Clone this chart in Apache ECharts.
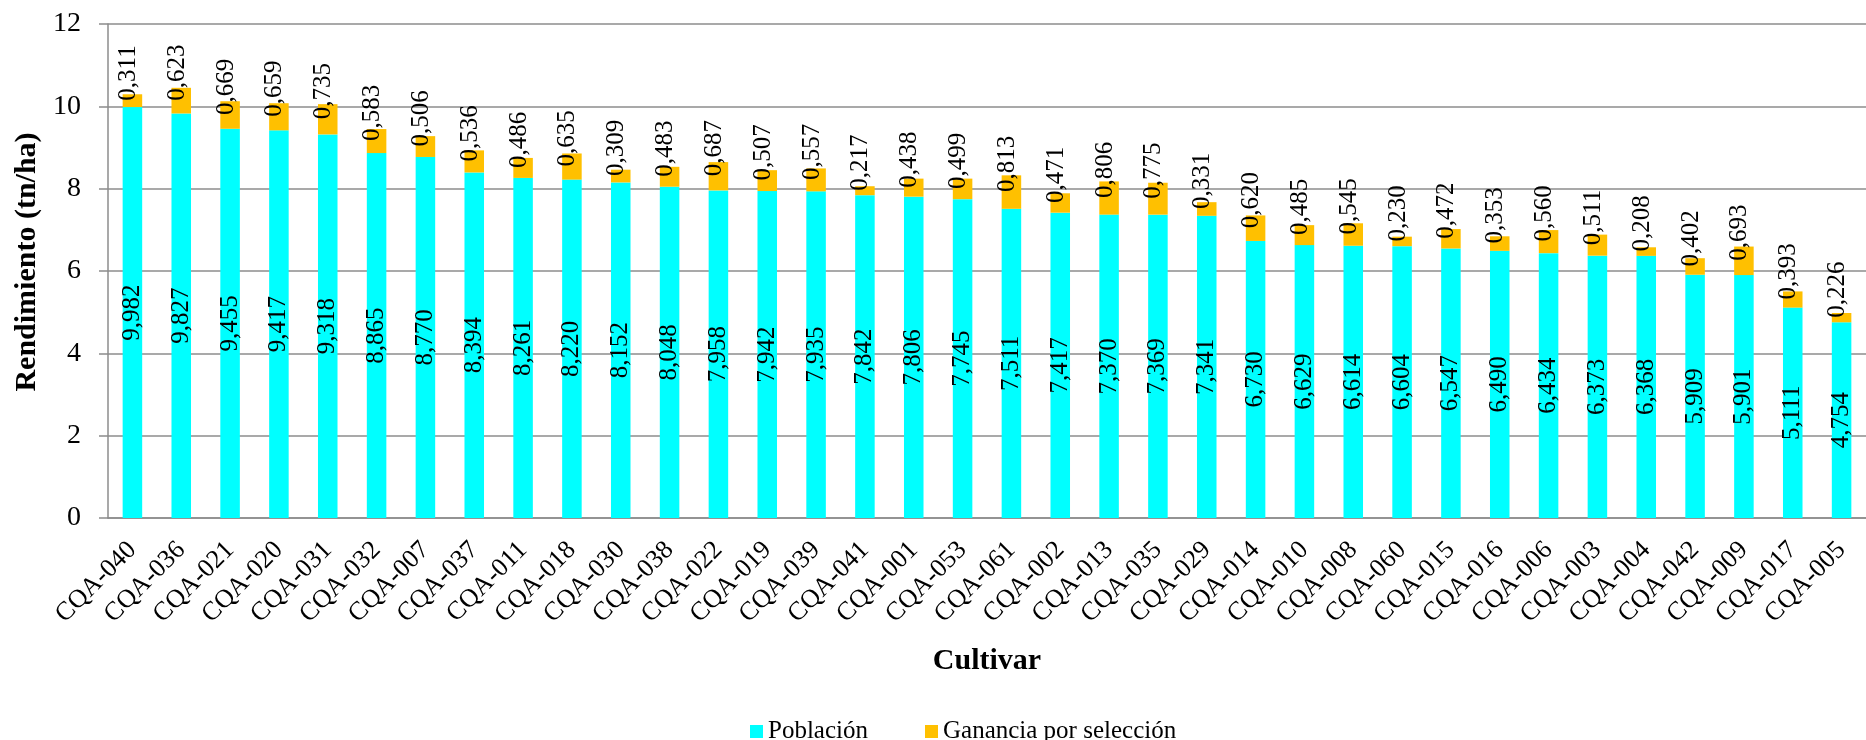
<!DOCTYPE html>
<html>
<head>
<meta charset="utf-8">
<script src="https://cdn.jsdelivr.net/npm/echarts@6/dist/echarts.min.js"></script>
<style>
    html, body { margin: 0; padding: 0; background: #fff; }
    #fig_rendimiento { width: 1866px; height: 740px; }
</style>
</head>
<body>
<div id="fig_rendimiento"></div>
<script>
// cultivars, sorted by poblacion
var cultivares = [
    'CQA-040', 'CQA-036', 'CQA-021', 'CQA-020', 'CQA-031', 'CQA-032',
    'CQA-007', 'CQA-037', 'CQA-011', 'CQA-018', 'CQA-030', 'CQA-038',
    'CQA-022', 'CQA-019', 'CQA-039', 'CQA-041', 'CQA-001', 'CQA-053',
    'CQA-061', 'CQA-002', 'CQA-013', 'CQA-035', 'CQA-029', 'CQA-014',
    'CQA-010', 'CQA-008', 'CQA-060', 'CQA-015', 'CQA-016', 'CQA-006',
    'CQA-003', 'CQA-004', 'CQA-042', 'CQA-009', 'CQA-017', 'CQA-005'
];

var poblacion = [
    9.982, 9.827, 9.455, 9.417, 9.318, 8.865,
    8.770, 8.394, 8.261, 8.220, 8.152, 8.048,
    7.958, 7.942, 7.935, 7.842, 7.806, 7.745,
    7.511, 7.417, 7.370, 7.369, 7.341, 6.730,
    6.629, 6.614, 6.604, 6.547, 6.490, 6.434,
    6.373, 6.368, 5.909, 5.901, 5.111, 4.754
];

var ganancia = [
    0.311, 0.623, 0.669, 0.659, 0.735, 0.583,
    0.506, 0.536, 0.486, 0.635, 0.309, 0.483,
    0.687, 0.507, 0.557, 0.217, 0.438, 0.499,
    0.813, 0.471, 0.806, 0.775, 0.331, 0.620,
    0.485, 0.545, 0.230, 0.472, 0.353, 0.560,
    0.511, 0.208, 0.402, 0.693, 0.393, 0.226
];

var y_ticks = [0, 12, 2];   // min, max, interval

var fig_rendimiento = {
    plot_id: 'fig_rendimiento',
    plot_chart: null,
    font: '"Liberation Serif", "Times New Roman", serif',

    // 9.982 -> 9,982
    fmt_num: function(v) {
        return v.toFixed(3).replace('.', ',');
    },

    init: function() {
        var font = this.font;
        var fmt = function(p) { return fig_rendimiento.fmt_num(p.value); };

        this.option = {
            animation: false,
            textStyle: { fontFamily: font, color: '#000' },
            grid: {
                top: 24,
                right: 0,
                bottom: 222,
                left: 108
            },
            legend: {
                data: ['Población', 'Ganancia por selección'],
                left: 745,
                top: 714,
                itemWidth: 13,
                itemHeight: 13,
                itemGap: 57,
                icon: 'rect',
                textStyle: { fontFamily: font, fontSize: 25, color: '#000' }
            },
            xAxis: {
                type: 'category',
                data: cultivares,
                name: 'Cultivar',
                nameLocation: 'middle',
                nameGap: 128,
                nameTextStyle: { fontFamily: font, fontSize: 30, fontWeight: 'bold', color: '#000' },
                axisLine: { lineStyle: { color: '#8c8c8c', width: 1.5 } },
                axisTick: { length: 7, lineStyle: { color: '#8c8c8c', width: 1.5 } },
                axisLabel: {
                    rotate: 45,
                    interval: 0,
                    margin: 28,
                    fontFamily: font,
                    fontSize: 26,
                    color: '#000'
                }
            },
            yAxis: {
                type: 'value',
                min: y_ticks[0],
                max: y_ticks[1],
                interval: y_ticks[2],
                name: 'Rendimiento (tn/ha)',
                nameLocation: 'middle',
                nameGap: 64,
                nameTextStyle: {
                    fontFamily: font,
                    fontSize: 30,
                    fontWeight: 'bold',
                    color: '#000',
                    padding: [0, 0, 0, 18]
                },
                axisLine: { show: true, lineStyle: { color: '#8c8c8c', width: 1.5 } },
                axisTick: { show: true, length: 9, lineStyle: { color: '#8c8c8c', width: 1.5 } },
                axisLabel: { margin: 27, fontFamily: font, fontSize: 28, color: '#000' },
                splitLine: { lineStyle: { color: '#8c8c8c', width: 1.5 } }
            },
            series: [
                {
                    name: 'Población',
                    type: 'bar',
                    stack: 'total',
                    barWidth: '40%',
                    itemStyle: { color: '#00ffff' },
                    label: {
                        show: true,
                        position: 'inside',
                        rotate: 90,
                        fontFamily: font,
                        fontSize: 25,
                        color: '#000',
                        formatter: fmt
                    },
                    data: poblacion
                },
                {
                    name: 'Ganancia por selección',
                    type: 'bar',
                    stack: 'total',
                    barWidth: '40%',
                    itemStyle: { color: '#ffc000' },
                    label: {
                        show: true,
                        position: 'inside',
                        rotate: 90,
                        align: 'left',
                        verticalAlign: 'middle',
                        offset: [0, -4],
                        fontFamily: font,
                        fontSize: 25,
                        color: '#000',
                        formatter: fmt
                    },
                    data: ganancia
                }
            ]
        };

        this.plot_chart = echarts.init(document.getElementById(this.plot_id));
        this.plot_chart.setOption(this.option);
    }
};

fig_rendimiento.init();
</script>
</body>
</html>
